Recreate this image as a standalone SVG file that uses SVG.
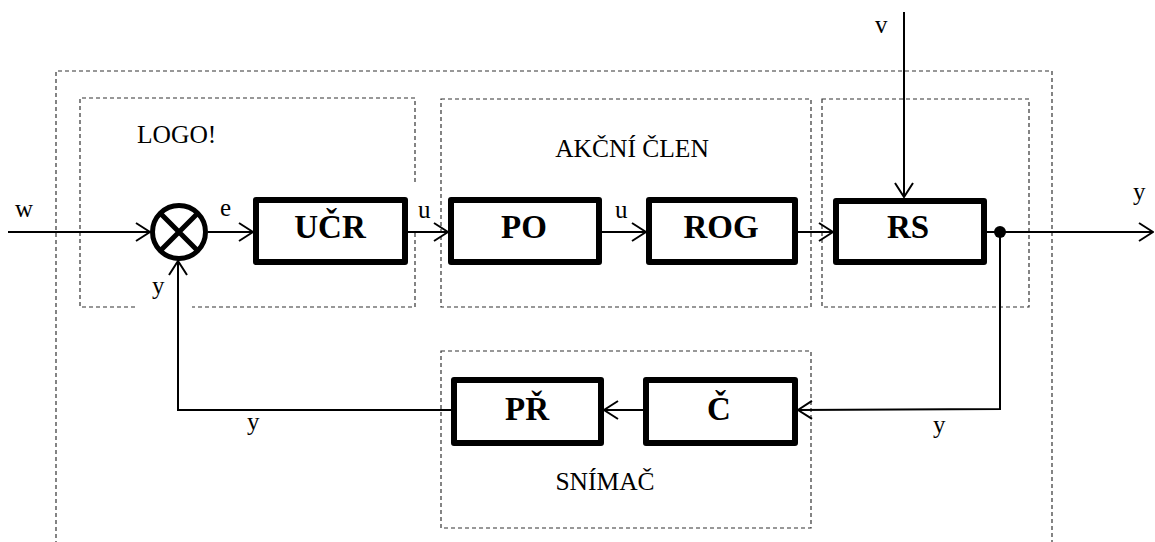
<svg xmlns="http://www.w3.org/2000/svg" width="1155" height="542" viewBox="0 0 1155 542">
  <defs>
    <style>
      .frame { fill: none; stroke: #333; stroke-width: 1.2; stroke-dasharray: 4 3; }
      .block { fill: #fff; stroke: #000; stroke-width: 6; stroke-linejoin: round; }
      .wire { fill: none; stroke: #000; stroke-width: 2; }
      .lbl { font-family: "Liberation Serif", "Times New Roman", serif; font-size: 25px; fill: #000; }
      .title { font-family: "Liberation Serif", "Times New Roman", serif; font-size: 25.5px; fill: #000; }
      .name { font-family: "Liberation Serif", "Times New Roman", serif; font-size: 33px; font-weight: bold; fill: #000; text-anchor: middle; }
    </style>
    <marker id="arrow" viewBox="0 0 16 20" refX="15" refY="10" markerWidth="16" markerHeight="20" markerUnits="userSpaceOnUse" orient="auto">
      <path d="M1,1 L15,10 L1,19" fill="none" stroke="#000" stroke-width="2"/>
    </marker>
  </defs>

  <!-- dashed grouping frames -->
  <g id="frames">
    <path class="frame" d="M56,545 V71 H1052 V545"/>
    <path class="frame" d="M135,307 H80 V98 H415 V185 M415,233 V307 H192"/>
    <rect class="frame" x="441" y="99" width="370" height="208"/>
    <rect class="frame" x="822" y="99" width="207" height="208"/>
    <rect class="frame" x="441" y="351" width="370" height="177"/>
    <text class="title" x="137" y="143">LOGO!</text>
    <text class="title" x="632" y="157" text-anchor="middle">AKČNÍ ČLEN</text>
    <text class="title" x="605" y="490" text-anchor="middle">SNÍMAČ</text>
  </g>

  <!-- signal connectors -->
  <g id="connectors">
    <line class="wire" x1="8" y1="232" x2="150" y2="232" marker-end="url(#arrow)"/>
    <line class="wire" x1="208" y1="232" x2="253" y2="232" marker-end="url(#arrow)"/>
    <line class="wire" x1="408" y1="232" x2="448" y2="232" marker-end="url(#arrow)"/>
    <line class="wire" x1="602" y1="232" x2="646" y2="232" marker-end="url(#arrow)"/>
    <line class="wire" x1="798" y1="232" x2="833" y2="232" marker-end="url(#arrow)"/>
    <line class="wire" x1="904" y1="12" x2="904" y2="197" marker-end="url(#arrow)"/>
    <line class="wire" x1="987" y1="232" x2="1153" y2="232" marker-end="url(#arrow)"/>
    <polyline class="wire" points="1000,232 1000,409 798,410" marker-end="url(#arrow)"/>
    <line class="wire" x1="643" y1="410" x2="604" y2="410" marker-end="url(#arrow)"/>
    <polyline class="wire" points="451,410 178,410 178,261" marker-end="url(#arrow)"/>
    <circle cx="1000" cy="232" r="6" fill="#000"/>
    <text class="lbl" x="15" y="217">w</text>
    <text class="lbl" x="220" y="216">e</text>
    <text class="lbl" x="418" y="218">u</text>
    <text class="lbl" x="615" y="218">u</text>
    <text class="lbl" x="875" y="33">v</text>
    <text class="lbl" x="1133" y="200">y</text>
    <text class="lbl" x="152" y="294">y</text>
    <text class="lbl" x="247" y="430">y</text>
    <text class="lbl" x="933" y="433">y</text>
  </g>

  <!-- summing junction -->
  <g id="sum">
    <circle cx="179" cy="232" r="26.5" fill="#fff" stroke="#000" stroke-width="5"/>
    <path d="M160.3,213.3 L197.7,250.7 M197.7,213.3 L160.3,250.7" stroke="#000" stroke-width="5"/>
  </g>

  <g id="ucr">
    <rect class="block" x="256" y="200" width="149" height="62"/>
    <text class="name" x="330" y="238">UČR</text>
  </g>
  <g id="po">
    <rect class="block" x="451" y="200" width="148" height="62"/>
    <text class="name" x="524" y="238">PO</text>
  </g>
  <g id="rog">
    <rect class="block" x="649" y="200" width="146" height="62"/>
    <text class="name" x="721" y="238">ROG</text>
  </g>
  <g id="rs">
    <rect class="block" x="836" y="201" width="148" height="61"/>
    <text class="name" x="908" y="238">RS</text>
  </g>
  <g id="pr">
    <rect class="block" x="454" y="380" width="147" height="63"/>
    <text class="name" x="527" y="420">PŘ</text>
  </g>
  <g id="c">
    <rect class="block" x="646" y="380" width="149" height="63"/>
    <text class="name" x="719" y="420">Č</text>
  </g>
</svg>
